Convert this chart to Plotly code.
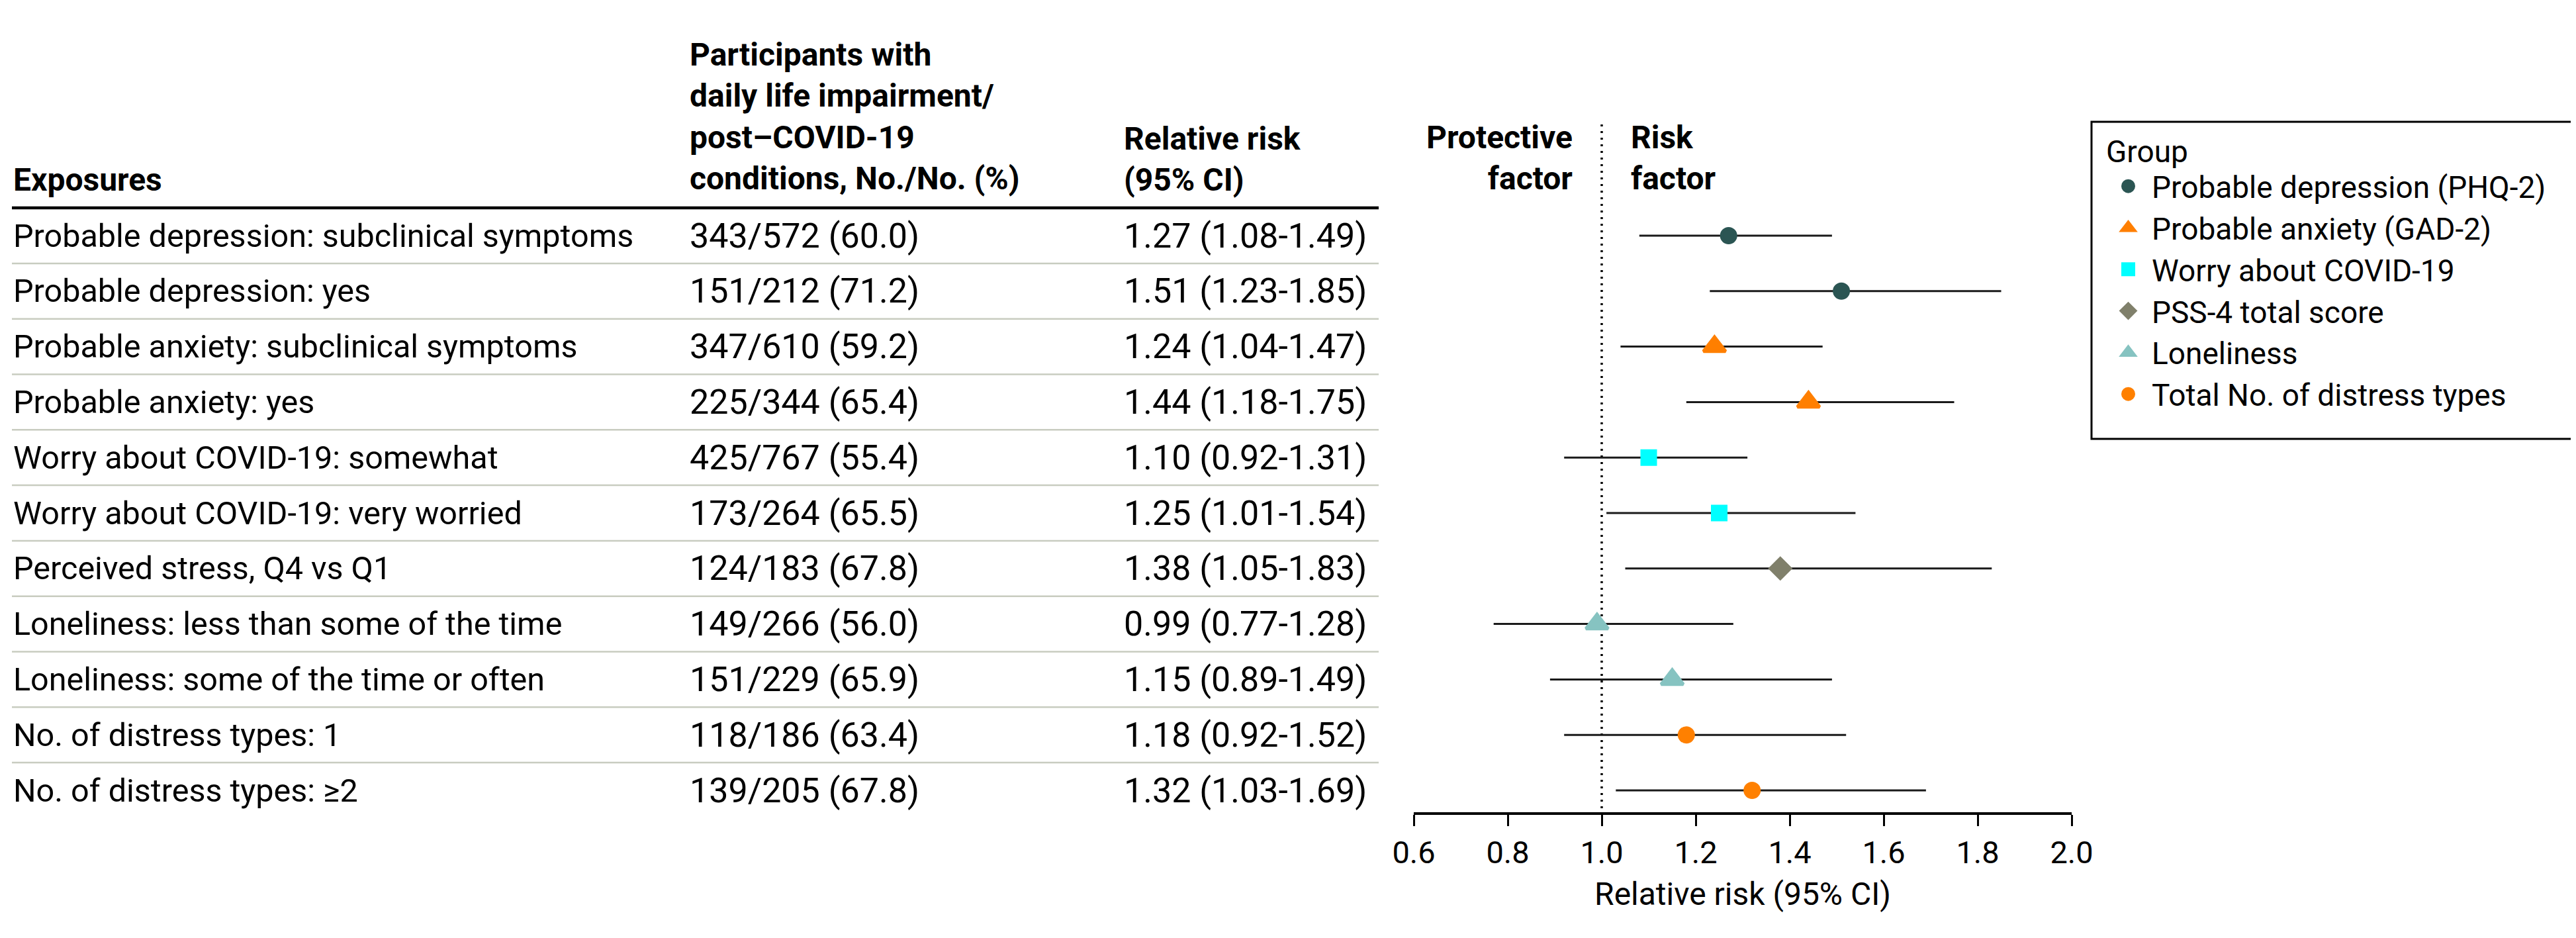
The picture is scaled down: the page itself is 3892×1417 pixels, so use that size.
import plotly.graph_objects as go

# ---------------- data ----------------
exposures = [
    "Probable depression: subclinical symptoms",
    "Probable depression: yes",
    "Probable anxiety: subclinical symptoms",
    "Probable anxiety: yes",
    "Worry about COVID-19: somewhat",
    "Worry about COVID-19: very worried",
    "Perceived stress, Q4 vs Q1",
    "Loneliness: less than some of the time",
    "Loneliness: some of the time or often",
    "No. of distress types: 1",
    "No. of distress types: ≥2",
]
events = [343, 151, 347, 225, 425, 173, 124, 149, 151, 118, 139]
totals = [572, 212, 610, 344, 767, 264, 183, 266, 229, 186, 205]
pcts = [60.0, 71.2, 59.2, 65.4, 55.4, 65.5, 67.8, 56.0, 65.9, 63.4, 67.8]
rr = [1.27, 1.51, 1.24, 1.44, 1.10, 1.25, 1.38, 0.99, 1.15, 1.18, 1.32]
rr_lo = [1.08, 1.23, 1.04, 1.18, 0.92, 1.01, 1.05, 0.77, 0.89, 0.92, 1.03]
rr_hi = [1.49, 1.85, 1.47, 1.75, 1.31, 1.54, 1.83, 1.28, 1.49, 1.52, 1.69]
row_group = [0, 0, 1, 1, 2, 2, 3, 4, 4, 5, 5]
groups = [
    "Probable depression (PHQ-2)",
    "Probable anxiety (GAD-2)",
    "Worry about COVID-19",
    "PSS-4 total score",
    "Loneliness",
    "Total No. of distress types",
]
x_ticks = [0.6, 0.8, 1.0, 1.2, 1.4, 1.6, 1.8, 2.0]

# ---------------- styles ----------------
group_colors = ["#2B5553", "#FF7F00", "#00FFFF", "#80806B", "#86C3C1", "#FF8000"]
group_symbols = ["circle", "triangle-up", "square", "diamond", "triangle-up", "circle"]
group_sizes = [21, 29, 20, 23, 29, 21]

W, H = 3892, 1417
FONT = "Roboto, Lato, sans-serif"
BODY = 48.5
NUM = 52
HEAD = 48
ROW0_PX, ROW_STEP, AXIS_PX = 348, 83.8, 1219
COL1, COL2, COL3 = 10, 1032, 1688


def px(x):
    return x / W


def py(p):
    return 1 - p / H


def yrow(p):
    return 1 + (p - ROW0_PX) / ROW_STEP


rows = list(range(1, len(exposures) + 1))

fig = go.Figure()
for g, name in enumerate(groups):
    idx = [i for i, gg in enumerate(row_group) if gg == g]
    fig.add_trace(go.Scatter(
        x=[rr[i] for i in idx],
        y=[rows[i] for i in idx],
        mode="markers",
        name=name,
        marker=dict(symbol=group_symbols[g], size=group_sizes[g], color=group_colors[g],
                    line=dict(color=group_colors[g], width=5)),
        error_x=dict(type="data", symmetric=False,
                     array=[rr_hi[i] - rr[i] for i in idx],
                     arrayminus=[rr[i] - rr_lo[i] for i in idx],
                     width=0, thickness=3, color="#1a1a1a"),
        cliponaxis=False,
    ))

annotations = []
# table body
for i, r in enumerate(rows):
    annotations.append(dict(x=px(COL1), xref="paper", y=r, yref="y", xanchor="left", yanchor="middle",
                            text=exposures[i], showarrow=False, font=dict(family=FONT, size=BODY, color="black")))
    annotations.append(dict(x=px(COL2), xref="paper", y=r, yref="y", xanchor="left", yanchor="middle",
                            text=f"{events[i]}/{totals[i]} ({pcts[i]:.1f})", showarrow=False,
                            font=dict(family=FONT, size=NUM, color="black")))
    annotations.append(dict(x=px(COL3), xref="paper", y=r, yref="y", xanchor="left", yanchor="middle",
                            text=f"{rr[i]:.2f} ({rr_lo[i]:.2f}-{rr_hi[i]:.2f})", showarrow=False,
                            font=dict(family=FONT, size=NUM, color="black")))

# headers
hfont = dict(family=FONT, size=HEAD, color="black")
annotations += [
    dict(x=px(COL1), xref="paper", y=yrow(263), yref="y", xanchor="left", yanchor="middle",
         text="<b>Exposures</b>", showarrow=False, font=hfont),
    dict(x=px(COL2), xref="paper", y=yrow(168), yref="y", xanchor="left", yanchor="middle", align="left",
         text="<b>Participants with<br>daily life impairment/<br>post–COVID-19<br>conditions, No./No. (%)</b>",
         showarrow=False, font=hfont),
    dict(x=px(COL3), xref="paper", y=yrow(232), yref="y", xanchor="left", yanchor="middle", align="left",
         text="<b>Relative risk<br>(95% CI)</b>", showarrow=False, font=hfont),
    dict(x=px(2370), xref="paper", y=yrow(230), yref="y", xanchor="right", yanchor="middle", align="right",
         text="<b>Protective<br>factor</b>", showarrow=False, font=hfont),
    dict(x=px(2454), xref="paper", y=yrow(230), yref="y", xanchor="left", yanchor="middle", align="left",
         text="<b>Risk<br>factor</b>", showarrow=False, font=hfont),
]

shapes = [
    dict(type="line", xref="paper", yref="y", x0=px(COL1), x1=px(2075), y0=yrow(306), y1=yrow(306),
         line=dict(color="black", width=4.5)),
    dict(type="line", xref="x", yref="y", x0=1.0, x1=1.0, y0=yrow(180), y1=yrow(AXIS_PX),
         line=dict(color="black", width=3.5, dash="3px,7px"), layer="below"),
    # legend frame
    dict(type="rect", xref="paper", yref="paper", x0=px(3152), x1=px(3882), y0=py(176), y1=py(655),
         line=dict(color="black", width=3), fillcolor="white", layer="below"),
]
for r in rows[:-1]:
    shapes.append(dict(type="line", xref="paper", yref="y", x0=px(COL1), x1=px(2075), y0=r + 0.5, y1=r + 0.5,
                       line=dict(color="#c8ccc0", width=2.5)))

fig.update_layout(
    width=W, height=H,
    margin=dict(l=0, r=0, t=0, b=0),
    paper_bgcolor="white", plot_bgcolor="rgba(0,0,0,0)",
    font=dict(family=FONT, color="black"),
    annotations=annotations,
    shapes=shapes,
    showlegend=True,
    legend=dict(x=px(3172), y=py(177), xanchor="left", yanchor="top",
                borderwidth=0, bgcolor="rgba(0,0,0,0)",
                font=dict(family=FONT, size=46, color="black"),
                title=dict(text="Group", font=dict(family=FONT, size=46, color="black")),
                itemwidth=61, tracegroupgap=0),
    xaxis=dict(domain=[px(2128), px(3122)], range=[0.6, 2.0], tickvals=x_ticks,
               ticktext=[f"{t:.1f}" for t in x_ticks], ticks="outside", ticklen=17, tickwidth=2.5,
               tickcolor="black", showline=True, linecolor="black", linewidth=3.5,
               showgrid=False, zeroline=False, automargin=False,
               tickfont=dict(family=FONT, size=47, color="black"),
               title=dict(text="Relative risk (95% CI)", font=dict(family=FONT, size=48, color="black"),
                          standoff=20)),
    yaxis=dict(domain=[1 - AXIS_PX / H, 1], range=[yrow(AXIS_PX), yrow(0)], visible=False,
               showgrid=False, zeroline=False, automargin=False),
)

fig.write_html("out.html")
